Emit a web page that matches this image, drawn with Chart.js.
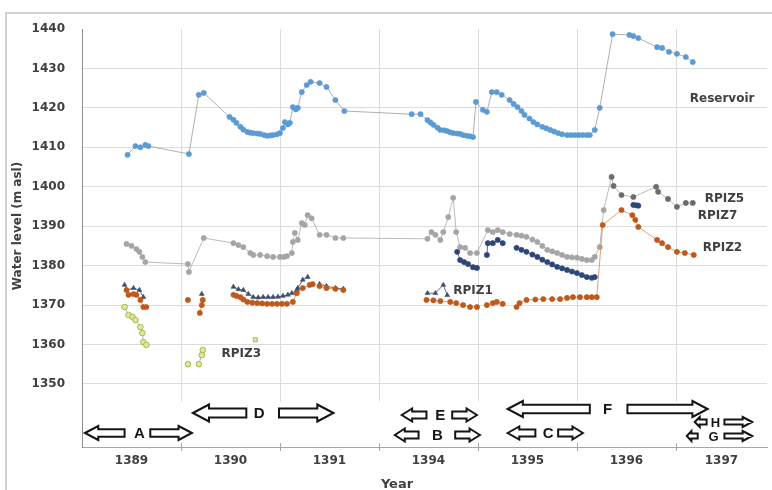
<!DOCTYPE html>
<html>
<head>
<meta charset="utf-8">
<script src="https://cdn.jsdelivr.net/npm/chart.js@4.4.0/dist/chart.umd.min.js"></script>
<style>
html, body { margin: 0; padding: 0; background: #fff; }
#wrap { position: relative; width: 772px; height: 490px; }
</style>
</head>
<body>
<div id="wrap"><canvas id="chart1"></canvas></div>
<script>
// x positions are measured in year slots: 0 = left edge of 1389, 1 = left edge of 1390 ...
const yearLabels = ['1389', '1390', '1391', '1394', '1395', '1396', '1397'];
const yearPos = [0.5, 1.5, 2.5, 3.5, 4.5, 5.5, 6.46];
const yTicks = [1350, 1360, 1370, 1380, 1390, 1400, 1410, 1420, 1430, 1440];

const reservoirPos = [0.46,0.54,0.59,0.64,0.67,1.08,1.18,1.23,1.49,1.53,1.56,1.60,1.63,1.67,1.70,1.73,1.77,1.80,1.84,1.87,1.90,1.93,1.97,2.00,2.03,2.05,2.08,2.10,2.13,2.16,2.18,2.22,2.27,2.31,2.40,2.47,2.56,2.65,3.33,3.42,3.49,3.52,3.55,3.59,3.62,3.66,3.69,3.72,3.75,3.79,3.82,3.85,3.89,3.92,3.95,3.98,4.05,4.09,4.14,4.19,4.24,4.32,4.36,4.40,4.44,4.47,4.52,4.56,4.60,4.65,4.69,4.73,4.77,4.81,4.85,4.90,4.94,4.98,5.02,5.06,5.10,5.13,5.18,5.23,5.36,5.53,5.57,5.62,5.81,5.86,5.93,6.01,6.10,6.17];
const reservoirLevel = [1408.1,1410.3,1410.0,1410.6,1410.3,1408.3,1423.3,1423.8,1417.7,1417.0,1416.2,1415.2,1414.5,1413.9,1413.7,1413.6,1413.5,1413.4,1413.1,1412.9,1413.0,1413.1,1413.3,1413.6,1414.9,1416.4,1415.8,1416.2,1420.2,1419.6,1420.0,1424.0,1425.8,1426.6,1426.3,1425.3,1422.0,1419.2,1418.4,1418.4,1416.9,1416.3,1415.7,1415.0,1414.4,1414.3,1414.1,1413.8,1413.6,1413.5,1413.4,1413.1,1412.9,1412.8,1412.6,1421.5,1419.5,1419.0,1424.0,1424.0,1423.3,1422.0,1421.0,1420.2,1419.2,1418.2,1417.3,1416.4,1415.8,1415.2,1414.8,1414.4,1414.0,1413.6,1413.3,1413.1,1413.1,1413.1,1413.1,1413.1,1413.1,1413.1,1414.4,1420.0,1438.7,1438.5,1438.2,1437.7,1435.4,1435.2,1434.2,1433.7,1432.9,1431.6];

const rpiz5Pos = [0.45,0.50,0.55,0.58,0.61,0.64,1.07,1.08,1.23,1.53,1.58,1.63,1.70,1.73,1.80,1.87,1.93,2.00,2.04,2.07,2.12,2.13,2.15,2.18,2.22,2.25,2.28,2.32,2.40,2.47,2.56,2.64,3.49,3.53,3.57,3.62,3.65,3.70,3.75,3.78,3.82,3.87,3.92,3.99,4.10,4.15,4.20,4.25,4.32,4.39,4.44,4.49,4.55,4.60,4.65,4.70,4.75,4.80,4.85,4.90,4.95,5.00,5.05,5.10,5.15,5.18,5.23,5.27,5.35,5.37,5.45,5.57,5.80,5.82,5.92,6.01,6.10,6.17];
const rpiz5Level = [1385.5,1385.0,1384.2,1383.5,1382.2,1380.9,1380.4,1378.4,1387.0,1385.7,1385.2,1384.7,1383.2,1382.7,1382.7,1382.4,1382.2,1382.2,1382.2,1382.4,1383.2,1386.0,1388.3,1386.5,1390.8,1390.3,1392.8,1392.0,1387.8,1387.8,1387.0,1387.0,1386.8,1388.5,1387.8,1386.5,1388.5,1392.3,1397.2,1388.5,1384.7,1384.5,1383.2,1383.2,1389.0,1388.5,1389.0,1388.5,1388.0,1387.8,1387.6,1387.3,1386.6,1386.0,1385.0,1384.0,1383.6,1383.2,1382.7,1382.2,1382.1,1382.0,1381.7,1381.4,1381.4,1382.2,1384.7,1394.1,1402.5,1400.2,1397.9,1397.4,1400.0,1398.7,1396.9,1394.9,1395.9,1395.9];

const rpiz7Pos = [3.79,3.82,3.86,3.90,3.95,3.99,4.04,4.09,4.10,4.15,4.20,4.25,4.32,4.39,4.44,4.49,4.55,4.60,4.65,4.70,4.75,4.80,4.85,4.90,4.95,5.00,5.05,5.10,5.15,5.18,5.40,5.57,5.60,5.62];
const rpiz7Level = [1383.5,1381.4,1380.9,1380.4,1379.6,1379.4,null,1382.7,1385.7,1385.7,1386.5,1385.7,null,1384.5,1384.0,1383.5,1382.8,1382.2,1381.5,1380.9,1380.3,1379.7,1379.3,1378.9,1378.5,1378.1,1377.6,1377.1,1376.9,1377.1,null,1395.4,1395.3,1395.2];

const rpiz2Pos = [0.45,0.47,0.52,0.55,0.59,0.62,0.65,0.85,1.07,1.13,1.19,1.21,1.22,1.40,1.53,1.56,1.60,1.63,1.67,1.72,1.77,1.82,1.87,1.92,1.97,2.02,2.07,2.13,2.17,2.23,2.30,2.33,2.36,2.40,2.47,2.56,2.64,3.00,3.48,3.55,3.62,3.72,3.78,3.85,3.92,3.99,4.04,4.09,4.15,4.19,4.25,4.32,4.39,4.42,4.49,4.58,4.66,4.75,4.83,4.90,4.96,5.03,5.10,5.15,5.20,5.26,5.45,5.56,5.59,5.62,5.81,5.86,5.92,6.01,6.09,6.18];
const rpiz2Level = [1373.8,1372.6,1372.8,1372.6,1371.3,1369.5,1369.5,null,1371.3,null,1368.0,1370.0,1371.3,null,1372.6,1372.3,1372.0,1371.4,1370.8,1370.6,1370.5,1370.4,1370.3,1370.3,1370.3,1370.3,1370.3,1370.8,1373.0,1374.3,1375.1,1375.3,null,1374.8,1374.3,1374.1,1373.8,null,1371.3,1371.2,1371.0,1370.8,1370.5,1370.0,1369.5,1369.5,null,1370.0,1370.5,1370.8,1370.3,null,1369.5,1370.5,1371.3,1371.4,1371.5,1371.5,1371.5,1371.8,1372.0,1372.0,1372.0,1372.0,1372.0,1390.3,1394.1,1392.8,1391.6,1389.8,1386.5,1385.7,1384.7,1383.5,1383.2,1382.7];

const rpiz1Pos = [0.43,0.45,0.52,0.58,0.62,0.90,1.21,1.40,1.53,1.58,1.63,1.68,1.73,1.78,1.83,1.88,1.93,1.98,2.03,2.08,2.12,2.17,2.18,2.23,2.28,2.34,2.40,2.47,2.56,2.64,3.00,3.49,3.57,3.65,3.69];
const rpiz1Level = [1375.1,1373.8,1374.3,1373.8,1372.0,null,1372.8,null,1374.6,1374.0,1373.8,1372.8,1372.0,1371.9,1372.0,1372.0,1372.0,1372.1,1372.3,1372.6,1373.0,1373.8,1374.3,1376.4,1377.1,null,1375.3,1374.8,1374.3,1374.1,null,1373.0,1373.0,1375.1,1372.5];

const rpiz3Pos = [0.43,0.47,0.51,0.54,0.59,0.61,0.62,0.65,0.85,1.07,1.12,1.18,1.21,1.22,1.50,1.75];
const rpiz3Level = [1369.5,1367.5,1367.0,1366.2,1364.4,1362.9,1360.6,1359.9,null,1355.0,null,1355.0,1357.3,1358.6,null,1361.2];

// in-plot series labels
const seriesLabelText = ['Reservoir', 'RPIZ5', 'RPIZ7', 'RPIZ2', 'RPIZ1', 'RPIZ3'];
const seriesLabelPos = [6.14, 6.29, 6.22, 6.27, 3.75, 1.41];
const seriesLabelLevel = [1422.4, 1397.0, 1392.6, 1384.6, 1373.6, 1357.6];

// period arrows under the curves
const periodNames = ['A', 'D', 'E', 'B', 'F', 'C', 'H', 'G'];
const periodLevel = [1337.6, 1342.6, 1342.1, 1337.1, 1343.6, 1337.6, 1340.4, 1336.8];
const leftArrowFrom = [0.03, 1.12, 3.23, 3.16, 4.30, 4.30, 6.19, 6.11];
const leftArrowTo = [0.43, 1.66, 3.48, 3.40, 5.13, 4.58, 6.31, 6.22];
const letterPos = [0.58, 1.79, 3.62, 3.59, 5.31, 4.71, 6.40, 6.38];
const rightArrowFrom = [0.69, 1.99, 3.74, 3.77, 5.51, 4.81, 6.49, 6.49];
const rightArrowTo = [1.11, 2.54, 3.99, 4.02, 6.32, 5.06, 6.77, 6.77];
const arrowHeight = [14, 17, 13, 13, 16, 13, 10, 10];

function pts(xs, ys) {
    return xs.map(function (x, i) { return { x: x, y: ys[i] }; });
}

function blockArrow(ctx, x1, x2, y, h, pointLeft) {
    const w = x2 - x1;
    const head = Math.min(h * 0.95, w * 0.42);
    const hh = h / 2;
    const sh = h * 0.26;
    ctx.beginPath();
    if (pointLeft) {
        ctx.moveTo(x1, y);
        ctx.lineTo(x1 + head, y - hh);
        ctx.lineTo(x1 + head, y - sh);
        ctx.lineTo(x2, y - sh);
        ctx.lineTo(x2, y + sh);
        ctx.lineTo(x1 + head, y + sh);
        ctx.lineTo(x1 + head, y + hh);
    } else {
        ctx.moveTo(x2, y);
        ctx.lineTo(x2 - head, y - hh);
        ctx.lineTo(x2 - head, y - sh);
        ctx.lineTo(x1, y - sh);
        ctx.lineTo(x1, y + sh);
        ctx.lineTo(x2 - head, y + sh);
        ctx.lineTo(x2 - head, y + hh);
    }
    ctx.closePath();
    ctx.fillStyle = '#fff';
    ctx.fill();
    ctx.lineJoin = 'miter';
    ctx.lineWidth = 2;
    ctx.strokeStyle = '#151515';
    ctx.stroke();
}

const extras = {
    id: 'extras',
    beforeDraw: function (chart) {
        const ctx = chart.ctx;
        ctx.save();
        ctx.fillStyle = '#fff';
        ctx.fillRect(0, 0, chart.width, chart.height);
        ctx.strokeStyle = '#c4c4c4';
        ctx.lineWidth = 1.5;
        ctx.strokeRect(6, 13, chart.width + 20, chart.height + 20);
        ctx.restore();
    },
    beforeDatasetsDraw: function (chart) {
        const ctx = chart.ctx, xs = chart.scales.x, ys = chart.scales.y;
        const top = chart.chartArea.top, bottom = chart.chartArea.bottom;
        ctx.save();
        ctx.strokeStyle = '#dcdcdc';
        ctx.lineWidth = 1;
        for (let k = 1; k <= 6; k++) {
            const px = Math.round(xs.getPixelForValue(k)) + 0.5;
            ctx.beginPath();
            ctx.moveTo(px, top);
            ctx.lineTo(px, ys.getPixelForValue(1345.5));
            ctx.stroke();
        }
        ctx.strokeStyle = '#a6a6a6';
        for (let k = 1; k <= 6; k++) {
            const px = Math.round(xs.getPixelForValue(k)) + 0.5;
            ctx.beginPath();
            ctx.moveTo(px, bottom - 4);
            ctx.lineTo(px, bottom + 4);
            ctx.stroke();
        }
        ctx.restore();
    },
    afterDatasetsDraw: function (chart) {
        const ctx = chart.ctx, xs = chart.scales.x, ys = chart.scales.y;
        ctx.save();
        ctx.fillStyle = '#404040';
        ctx.font = 'bold 12px "DejaVu Sans"';
        ctx.textBaseline = 'middle';
        ctx.textAlign = 'left';
        seriesLabelText.forEach(function (t, i) {
            ctx.fillText(t, xs.getPixelForValue(seriesLabelPos[i]), ys.getPixelForValue(seriesLabelLevel[i]));
        });

        periodNames.forEach(function (n, i) {
            const y = Math.round(ys.getPixelForValue(periodLevel[i]));
            const h = arrowHeight[i];
            blockArrow(ctx, xs.getPixelForValue(leftArrowFrom[i]), xs.getPixelForValue(leftArrowTo[i]), y, h, true);
            blockArrow(ctx, xs.getPixelForValue(rightArrowFrom[i]), xs.getPixelForValue(rightArrowTo[i]), y, h, false);
            ctx.fillStyle = '#151515';
            ctx.font = 'bold ' + (h >= 13 ? 15 : 13) + 'px "Liberation Sans"';
            ctx.textAlign = 'center';
            ctx.fillText(n, xs.getPixelForValue(letterPos[i]), y + 1);
        });

        ctx.fillStyle = '#404040';
        ctx.font = 'bold 13px "DejaVu Sans"';
        ctx.textAlign = 'center';
        ctx.textBaseline = 'top';
        ctx.fillText('Year', 397, 478);
        ctx.translate(18, 226);
        ctx.rotate(-Math.PI / 2);
        ctx.font = 'bold 12px "DejaVu Sans"';
        ctx.textBaseline = 'middle';
        ctx.fillText('Water level (m asl)', 0, 0);
        ctx.restore();
    }
};

function serie(label, xs, ys, color, lineColor, extra) {
    const d = {
        label: label,
        data: pts(xs, ys),
        borderColor: lineColor,
        borderWidth: 0.8,
        backgroundColor: color,
        pointBackgroundColor: color,
        pointBorderColor: color,
        pointRadius: 2.6,
        pointBorderWidth: 0.6,
        spanGaps: false,
        tension: 0
    };
    return Object.assign(d, extra || {});
}

function grafic() {
    const ctx = document.getElementById('chart1').getContext('2d');
    Chart.defaults.font.family = '"DejaVu Sans"';
    new Chart(ctx, {
        type: 'line',
        data: {
            datasets: [
                serie('RPIZ3', rpiz3Pos, rpiz3Level, '#dfe99a', '#8ea0b8', {
                    pointBorderColor: '#a8b84a', pointRadius: 2.8, pointBorderWidth: 1,
                    pointStyle: function (c) { return c.raw && c.raw.x > 1.7 ? 'rect' : 'circle'; }
                }),
                serie('RPIZ2', rpiz2Pos, rpiz2Level, '#c0581a', '#d8884f'),
                serie('RPIZ1', rpiz1Pos, rpiz1Level, '#3f4e66', '#3f4e66', { pointStyle: 'triangle', pointRadius: 2.8 }),
                serie('RPIZ5', rpiz5Pos, rpiz5Level, '#a5a5a5', '#a9a9a9', {
                    pointBackgroundColor: function (c) { return c.raw && c.raw.x > 5.3 ? '#6c6c6c' : '#a5a5a5'; },
                    pointBorderColor: function (c) { return c.raw && c.raw.x > 5.3 ? '#6c6c6c' : '#a5a5a5'; }
                }),
                serie('RPIZ7', rpiz7Pos, rpiz7Level, '#2c4677', '#2c4677'),
                serie('Reservoir', reservoirPos, reservoirLevel, '#5b9bd5', '#9a9a9a')
            ]
        },
        options: {
            responsive: true,
            maintainAspectRatio: false,
            animation: false,
            layout: { padding: { top: 29, right: 5, left: 0, bottom: 0 } },
            plugins: {
                legend: { display: false },
                tooltip: { enabled: false }
            },
            scales: {
                x: {
                    type: 'linear',
                    min: 0,
                    max: 6.92,
                    afterBuildTicks: function (s) { s.ticks = yearPos.map(function (v) { return { value: v }; }); },
                    afterFit: function (s) { s.height = 43; },
                    grid: { display: false, drawTicks: false },
                    border: { color: '#a6a6a6', width: 1 },
                    ticks: {
                        autoSkip: false,
                        maxRotation: 0,
                        padding: 7,
                        color: '#404040',
                        font: { size: 12, weight: 'bold' },
                        callback: function (v, i) { return yearLabels[i]; }
                    }
                },
                y: {
                    min: 1334,
                    max: 1440,
                    afterBuildTicks: function (s) { s.ticks = yTicks.map(function (v) { return { value: v }; }); },
                    afterFit: function (s) { s.width = 82; },
                    grid: {
                        drawTicks: false,
                        color: function (c) { return c.tick && c.tick.value === 1440 ? 'rgba(0,0,0,0)' : '#dcdcdc'; }
                    },
                    border: { color: '#8c8c8c', width: 1 },
                    ticks: {
                        padding: 17,
                        color: '#404040',
                        font: { size: 12, weight: 'bold' },
                        callback: function (v) { return String(v); }
                    }
                }
            }
        },
        plugins: [extras]
    });
}

grafic();
</script>
</body>
</html>
